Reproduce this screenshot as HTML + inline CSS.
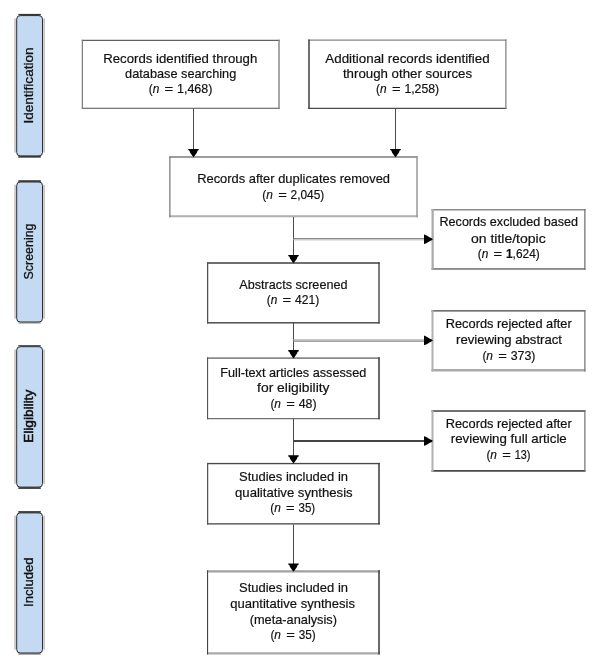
<!DOCTYPE html>
<html><head><meta charset="utf-8"><style>
html,body{margin:0;padding:0;background:#fff;}
body{width:600px;height:669px;overflow:hidden;}
svg{display:block;will-change:transform;}
text{font-family:"Liberation Sans", sans-serif;fill:#111;stroke:#111;stroke-width:0.2px;}
</style></head><body>
<svg width="600" height="669" viewBox="0 0 600 669">
<rect x="14.3" y="18.4" width="1.5" height="134.2" fill="#c6beba"/>
<rect x="43.3" y="18.4" width="1.6" height="134.2" fill="#c6beba"/>
<rect x="18.3" y="13.9" width="22.5" height="1.5" fill="#3a3636"/>
<rect x="18.3" y="156.1" width="22.5" height="1.5" fill="#2a2626"/>
<rect x="16.7" y="15.6" width="25.8" height="140.29999999999998" rx="3.5" fill="#c4daf2" stroke="#2b2b2b" stroke-width="1"/>
<rect x="14.3" y="184.8" width="1.5" height="133.89999999999998" fill="#c6beba"/>
<rect x="43.3" y="184.8" width="1.6" height="133.89999999999998" fill="#c6beba"/>
<rect x="18.3" y="180.3" width="22.5" height="1.5" fill="#1e1e1e"/>
<rect x="18.3" y="322.2" width="22.5" height="1.5" fill="#a8a8a8"/>
<rect x="16.7" y="182.0" width="25.8" height="139.99999999999997" rx="3.5" fill="#c4daf2" stroke="#2b2b2b" stroke-width="1"/>
<rect x="14.3" y="349.5" width="1.5" height="134.3" fill="#c6beba"/>
<rect x="43.3" y="349.5" width="1.6" height="134.3" fill="#c6beba"/>
<rect x="18.3" y="345.0" width="22.5" height="1.5" fill="#5a5a5a"/>
<rect x="18.3" y="487.3" width="22.5" height="1.5" fill="#1e1e1e"/>
<rect x="16.7" y="346.7" width="25.8" height="140.4" rx="3.5" fill="#c4daf2" stroke="#2b2b2b" stroke-width="1"/>
<rect x="14.3" y="515.7" width="1.5" height="134.00000000000006" fill="#c6beba"/>
<rect x="43.3" y="515.7" width="1.6" height="134.00000000000006" fill="#c6beba"/>
<rect x="18.3" y="511.2" width="22.5" height="1.5" fill="#1e1e1e"/>
<rect x="18.3" y="653.2" width="22.5" height="1.5" fill="#8a8a8a"/>
<rect x="16.7" y="512.9" width="25.8" height="140.10000000000005" rx="3.5" fill="#c4daf2" stroke="#2b2b2b" stroke-width="1"/>
<rect x="83.0" y="41.0" width="195.25" height="66.75" fill="#fff"/>
<rect x="81.75" y="39.75" width="198.00" height="1.25" fill="#606060"/>
<rect x="81.75" y="107.75" width="198.00" height="1.00" fill="#505050"/>
<rect x="81.75" y="39.75" width="1.25" height="69.00" fill="#808080"/>
<rect x="278.25" y="39.75" width="1.50" height="69.00" fill="#8a8a8a"/>
<rect x="309.75" y="40.75" width="195.50" height="67.00" fill="#fff"/>
<rect x="308.25" y="39.5" width="198.25" height="1.25" fill="#888888"/>
<rect x="308.25" y="107.75" width="198.25" height="1.25" fill="#4a4a4a"/>
<rect x="308.25" y="39.5" width="1.50" height="69.50" fill="#404040"/>
<rect x="505.25" y="39.5" width="1.25" height="69.50" fill="#808080"/>
<rect x="170.5" y="157.5" width="245.75" height="57.75" fill="#fff"/>
<rect x="169.25" y="156.5" width="248.50" height="1.00" fill="#3c3c3c"/>
<rect x="169.25" y="215.25" width="248.50" height="2.00" fill="#b0b0b0"/>
<rect x="169.25" y="156.5" width="1.25" height="60.75" fill="#7a7a7a"/>
<rect x="416.25" y="156.5" width="1.50" height="60.75" fill="#999999"/>
<rect x="208.25" y="263.75" width="170.10" height="58.40" fill="#fff"/>
<rect x="207" y="262.25" width="172.65" height="1.50" fill="#404040"/>
<rect x="207" y="322.15" width="172.65" height="1.35" fill="#3a3a3a"/>
<rect x="207" y="262.25" width="1.25" height="61.25" fill="#505050"/>
<rect x="378.35" y="262.25" width="1.30" height="61.25" fill="#3a3a3a"/>
<rect x="208.1" y="359.0" width="170.15" height="59.00" fill="#fff"/>
<rect x="207" y="357.25" width="172.75" height="1.75" fill="#8a8a8a"/>
<rect x="207" y="418.0" width="172.75" height="1.25" fill="#707070"/>
<rect x="207" y="357.25" width="1.10" height="62.00" fill="#555555"/>
<rect x="378.25" y="357.25" width="1.50" height="62.00" fill="#3a3a3a"/>
<rect x="208.25" y="464.25" width="170.00" height="59.00" fill="#fff"/>
<rect x="207" y="462.9" width="172.75" height="1.35" fill="#484848"/>
<rect x="207" y="523.25" width="172.75" height="1.25" fill="#404040"/>
<rect x="207" y="462.9" width="1.25" height="61.60" fill="#555555"/>
<rect x="378.25" y="462.9" width="1.50" height="61.60" fill="#3a3a3a"/>
<rect x="208.1" y="572.5" width="170.15" height="79.75" fill="#fff"/>
<rect x="207" y="570.25" width="172.75" height="2.25" fill="#a0a0a0"/>
<rect x="207" y="652.25" width="172.75" height="2.25" fill="#aaaaaa"/>
<rect x="207" y="570.25" width="1.10" height="84.25" fill="#444444"/>
<rect x="378.25" y="570.25" width="1.50" height="84.25" fill="#3a3a3a"/>
<rect x="433.75" y="210.5" width="150.50" height="57.65" fill="#fff"/>
<rect x="431.5" y="209.0" width="154.00" height="1.50" fill="#8a8a8a"/>
<rect x="431.5" y="268.15" width="154.00" height="1.60" fill="#777777"/>
<rect x="431.5" y="209.0" width="2.25" height="60.75" fill="#aaaaaa"/>
<rect x="584.25" y="209.0" width="1.25" height="60.75" fill="#707070"/>
<rect x="433.5" y="311.5" width="150.75" height="57.50" fill="#fff"/>
<rect x="431.5" y="310.25" width="154.00" height="1.25" fill="#444444"/>
<rect x="431.5" y="369.0" width="154.00" height="2.50" fill="#aaaaaa"/>
<rect x="431.5" y="310.25" width="2.00" height="61.25" fill="#b0b0b0"/>
<rect x="584.25" y="310.25" width="1.25" height="61.25" fill="#777777"/>
<rect x="433.5" y="411.75" width="150.75" height="58.25" fill="#fff"/>
<rect x="431.5" y="410.25" width="154.00" height="1.50" fill="#444444"/>
<rect x="431.5" y="470.0" width="154.00" height="1.75" fill="#4a4a4a"/>
<rect x="431.5" y="410.25" width="2.00" height="61.50" fill="#b0b0b0"/>
<rect x="584.25" y="410.25" width="1.25" height="61.50" fill="#777777"/>
<rect x="193" y="108.5" width="1" height="44.50" fill="#4a4a4a"/>
<path d="M188.20 148.90 L198.80 148.90 L198.70 150.10 L197.50 150.80 L197.00 152.40 L195.60 154.40 L194.50 156.00 L193.50 157.20 L192.50 156.00 L191.40 154.40 L190.00 152.40 L189.50 150.80 L188.30 150.10 Z" fill="#000"/>
<rect x="395" y="108.5" width="1" height="44.50" fill="#4a4a4a"/>
<path d="M390.20 148.90 L400.80 148.90 L400.70 150.10 L399.50 150.80 L399.00 152.40 L397.60 154.40 L396.50 156.00 L395.50 157.20 L394.50 156.00 L393.40 154.40 L392.00 152.40 L391.50 150.80 L390.30 150.10 Z" fill="#000"/>
<rect x="293" y="217" width="1" height="42.00" fill="#4a4a4a"/>
<path d="M288.20 254.90 L298.80 254.90 L298.70 256.10 L297.50 256.80 L297.00 258.40 L295.60 260.40 L294.50 262.00 L293.50 263.20 L292.50 262.00 L291.40 260.40 L290.00 258.40 L289.50 256.80 L288.30 256.10 Z" fill="#000"/>
<rect x="293" y="323" width="1" height="31.20" fill="#4a4a4a"/>
<path d="M288.20 350.10 L298.80 350.10 L298.70 351.30 L297.50 352.00 L297.00 353.60 L295.60 355.60 L294.50 357.20 L293.50 358.40 L292.50 357.20 L291.40 355.60 L290.00 353.60 L289.50 352.00 L288.30 351.30 Z" fill="#000"/>
<rect x="293" y="419" width="1" height="40.30" fill="#4a4a4a"/>
<path d="M288.20 455.20 L298.80 455.20 L298.70 456.40 L297.50 457.10 L297.00 458.70 L295.60 460.70 L294.50 462.30 L293.50 463.50 L292.50 462.30 L291.40 460.70 L290.00 458.70 L289.50 457.10 L288.30 456.40 Z" fill="#000"/>
<rect x="293" y="524.5" width="1" height="43.00" fill="#4a4a4a"/>
<path d="M288.20 563.40 L298.80 563.40 L298.70 564.60 L297.50 565.30 L297.00 566.90 L295.60 568.90 L294.50 570.50 L293.50 571.70 L292.50 570.50 L291.40 568.90 L290.00 566.90 L289.50 565.30 L288.30 564.60 Z" fill="#000"/>
<rect x="293.5" y="238" width="134.20" height="1" fill="#8c8c8c"/>
<rect x="293.5" y="239" width="134.20" height="1.5" fill="#cacaca"/>
<path d="M424.00 234.45 L424.00 244.05 L425.10 243.75 L427.10 242.75 L429.50 241.25 L431.70 240.15 L432.90 239.25 L431.70 238.35 L429.50 237.25 L427.10 235.75 L425.10 234.75 Z" fill="#000"/>
<rect x="293.5" y="339" width="134.20" height="1.5" fill="#cacaca"/>
<rect x="293.5" y="340.5" width="134.20" height="1.25" fill="#8c8c8c"/>
<path d="M424.00 335.57 L424.00 345.18 L425.10 344.88 L427.10 343.88 L429.50 342.38 L431.70 341.27 L432.90 340.38 L431.70 339.48 L429.50 338.38 L427.10 336.88 L425.10 335.88 Z" fill="#000"/>
<rect x="293.5" y="440" width="134.20" height="2" fill="#444444"/>
<path d="M424.00 436.20 L424.00 445.80 L425.10 445.50 L427.10 444.50 L429.50 443.00 L431.70 441.90 L432.90 441.00 L431.70 440.10 L429.50 439.00 L427.10 437.50 L425.10 436.50 Z" fill="#000"/>
<text x="180.25" y="63.2" font-size="13.5" text-anchor="middle" textLength="154.00" lengthAdjust="spacingAndGlyphs">Records identified through</text>
<text x="180.70" y="78.0" font-size="13.5" text-anchor="middle" textLength="111.20" lengthAdjust="spacingAndGlyphs">database searching</text>
<text x="148.70" y="93.3" font-size="13.5" text-anchor="start" textLength="10.60" lengthAdjust="spacingAndGlyphs">(<tspan font-style="italic">n</tspan></text>
<text x="168.90" y="93.3" font-size="13.5" text-anchor="middle" textLength="8.60" lengthAdjust="spacingAndGlyphs">=</text>
<text x="212.40" y="93.3" font-size="13.5" text-anchor="end" textLength="35.40" lengthAdjust="spacingAndGlyphs">1,468)</text>
<text x="407.50" y="63.2" font-size="13.5" text-anchor="middle" textLength="164.40" lengthAdjust="spacingAndGlyphs">Additional records identified</text>
<text x="407.50" y="78.0" font-size="13.5" text-anchor="middle" textLength="129.20" lengthAdjust="spacingAndGlyphs">through other sources</text>
<text x="376.10" y="93.3" font-size="13.5" text-anchor="start" textLength="10.60" lengthAdjust="spacingAndGlyphs">(<tspan font-style="italic">n</tspan></text>
<text x="396.30" y="93.3" font-size="13.5" text-anchor="middle" textLength="8.60" lengthAdjust="spacingAndGlyphs">=</text>
<text x="439.10" y="93.3" font-size="13.5" text-anchor="end" textLength="34.70" lengthAdjust="spacingAndGlyphs">1,258)</text>
<text x="293.60" y="183.0" font-size="13.5" text-anchor="middle" textLength="192.80" lengthAdjust="spacingAndGlyphs">Records after duplicates removed</text>
<text x="262.30" y="199.0" font-size="13.5" text-anchor="start" textLength="10.60" lengthAdjust="spacingAndGlyphs">(<tspan font-style="italic">n</tspan></text>
<text x="282.50" y="199.0" font-size="13.5" text-anchor="middle" textLength="8.60" lengthAdjust="spacingAndGlyphs">=</text>
<text x="324.30" y="199.0" font-size="13.5" text-anchor="end" textLength="33.70" lengthAdjust="spacingAndGlyphs">2,045)</text>
<text x="508.75" y="226.3" font-size="12.8" text-anchor="middle" textLength="138.50" lengthAdjust="spacingAndGlyphs">Records excluded based</text>
<text x="508.30" y="242.5" font-size="12.8" text-anchor="middle" textLength="74.75" lengthAdjust="spacingAndGlyphs">on title/topic</text>
<text x="477.70" y="258.0" font-size="12.8" text-anchor="start" textLength="10.60" lengthAdjust="spacingAndGlyphs">(<tspan font-style="italic">n</tspan></text>
<text x="497.90" y="258.0" font-size="12.8" text-anchor="middle" textLength="8.60" lengthAdjust="spacingAndGlyphs">=</text>
<text x="539.70" y="258.0" font-size="12.8" text-anchor="end" textLength="33.70" lengthAdjust="spacingAndGlyphs"><tspan font-weight="bold">1</tspan>,624)</text>
<text x="293.40" y="289.0" font-size="13.5" text-anchor="middle" textLength="108.25" lengthAdjust="spacingAndGlyphs">Abstracts screened</text>
<text x="266.70" y="304.0" font-size="13.5" text-anchor="start" textLength="10.60" lengthAdjust="spacingAndGlyphs">(<tspan font-style="italic">n</tspan></text>
<text x="286.90" y="304.0" font-size="13.5" text-anchor="middle" textLength="8.60" lengthAdjust="spacingAndGlyphs">=</text>
<text x="319.20" y="304.0" font-size="13.5" text-anchor="end" textLength="24.20" lengthAdjust="spacingAndGlyphs">421)</text>
<text x="508.75" y="328.0" font-size="12.8" text-anchor="middle" textLength="126.00" lengthAdjust="spacingAndGlyphs">Records rejected after</text>
<text x="509.00" y="343.8" font-size="12.8" text-anchor="middle" textLength="106.00" lengthAdjust="spacingAndGlyphs">reviewing abstract</text>
<text x="482.40" y="359.5" font-size="12.8" text-anchor="start" textLength="10.60" lengthAdjust="spacingAndGlyphs">(<tspan font-style="italic">n</tspan></text>
<text x="502.60" y="359.5" font-size="12.8" text-anchor="middle" textLength="8.60" lengthAdjust="spacingAndGlyphs">=</text>
<text x="535.40" y="359.5" font-size="12.8" text-anchor="end" textLength="24.70" lengthAdjust="spacingAndGlyphs">373)</text>
<text x="293.30" y="376.6" font-size="13.5" text-anchor="middle" textLength="146.00" lengthAdjust="spacingAndGlyphs">Full-text articles assessed</text>
<text x="293.30" y="391.7" font-size="13.5" text-anchor="middle" textLength="72.40" lengthAdjust="spacingAndGlyphs">for eligibility</text>
<text x="270.40" y="407.8" font-size="13.5" text-anchor="start" textLength="10.60" lengthAdjust="spacingAndGlyphs">(<tspan font-style="italic">n</tspan></text>
<text x="290.60" y="407.8" font-size="13.5" text-anchor="middle" textLength="8.60" lengthAdjust="spacingAndGlyphs">=</text>
<text x="316.60" y="407.8" font-size="13.5" text-anchor="end" textLength="17.90" lengthAdjust="spacingAndGlyphs">48)</text>
<text x="508.75" y="428.0" font-size="12.8" text-anchor="middle" textLength="126.00" lengthAdjust="spacingAndGlyphs">Records rejected after</text>
<text x="508.75" y="443.4" font-size="12.8" text-anchor="middle" textLength="116.00" lengthAdjust="spacingAndGlyphs">reviewing full article</text>
<text x="486.40" y="459.3" font-size="12.8" text-anchor="start" textLength="10.60" lengthAdjust="spacingAndGlyphs">(<tspan font-style="italic">n</tspan></text>
<text x="506.60" y="459.3" font-size="12.8" text-anchor="middle" textLength="8.60" lengthAdjust="spacingAndGlyphs">=</text>
<text x="530.40" y="459.3" font-size="12.8" text-anchor="end" textLength="15.70" lengthAdjust="spacingAndGlyphs">13)</text>
<text x="293.50" y="481.2" font-size="13.5" text-anchor="middle" textLength="109.00" lengthAdjust="spacingAndGlyphs">Studies included in</text>
<text x="293.85" y="496.7" font-size="13.5" text-anchor="middle" textLength="117.70" lengthAdjust="spacingAndGlyphs">qualitative synthesis</text>
<text x="270.20" y="512.3" font-size="13.5" text-anchor="start" textLength="10.60" lengthAdjust="spacingAndGlyphs">(<tspan font-style="italic">n</tspan></text>
<text x="290.40" y="512.3" font-size="13.5" text-anchor="middle" textLength="8.60" lengthAdjust="spacingAndGlyphs">=</text>
<text x="315.20" y="512.3" font-size="13.5" text-anchor="end" textLength="16.70" lengthAdjust="spacingAndGlyphs">35)</text>
<text x="293.50" y="591.6" font-size="13.5" text-anchor="middle" textLength="109.00" lengthAdjust="spacingAndGlyphs">Studies included in</text>
<text x="292.65" y="607.8" font-size="13.5" text-anchor="middle" textLength="124.70" lengthAdjust="spacingAndGlyphs">quantitative synthesis</text>
<text x="293.35" y="623.7" font-size="13.5" text-anchor="middle" textLength="87.30" lengthAdjust="spacingAndGlyphs">(meta-analysis)</text>
<text x="270.40" y="639.3" font-size="13.5" text-anchor="start" textLength="10.60" lengthAdjust="spacingAndGlyphs">(<tspan font-style="italic">n</tspan></text>
<text x="290.60" y="639.3" font-size="13.5" text-anchor="middle" textLength="8.60" lengthAdjust="spacingAndGlyphs">=</text>
<text x="315.70" y="639.3" font-size="13.5" text-anchor="end" textLength="17.00" lengthAdjust="spacingAndGlyphs">35)</text>
<text transform="translate(33.2 85.5) rotate(-90)" font-size="13.5" text-anchor="middle" textLength="76" lengthAdjust="spacingAndGlyphs" style="stroke-width:0.3px">Identification</text>
<text transform="translate(33.2 251.5) rotate(-90)" font-size="13.5" text-anchor="middle" textLength="56" lengthAdjust="spacingAndGlyphs" style="stroke-width:0.3px">Screening</text>
<text transform="translate(33.2 416.3) rotate(-90)" font-size="13.5" text-anchor="middle" textLength="53" lengthAdjust="spacingAndGlyphs" style="stroke-width:0.55px">Eligibility</text>
<text transform="translate(33.2 582.2) rotate(-90)" font-size="13.5" text-anchor="middle" textLength="49.4" lengthAdjust="spacingAndGlyphs" style="stroke-width:0.3px">Included</text>
</svg>
</body></html>
